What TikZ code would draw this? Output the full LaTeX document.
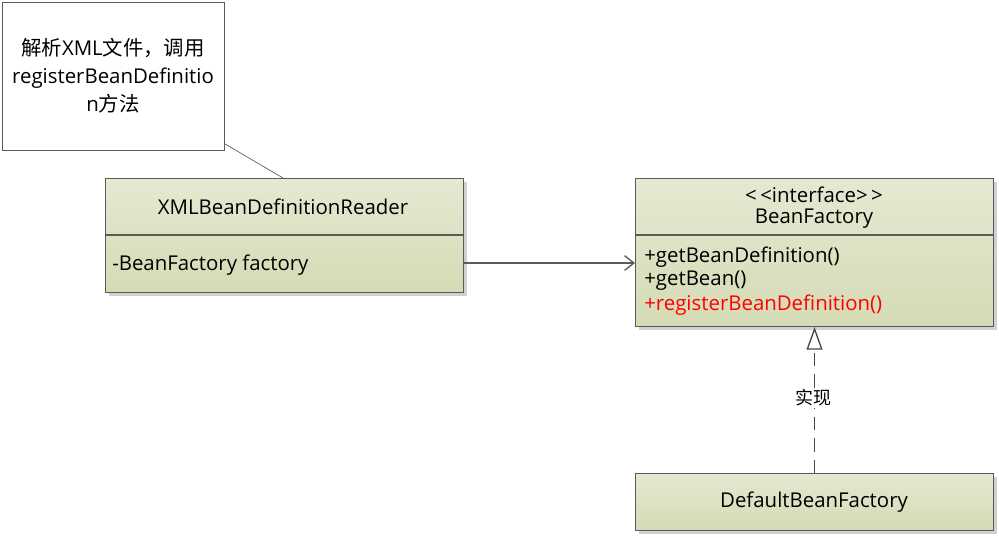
\documentclass[tikz,border=0pt]{standalone}
\usepackage{fontspec}
\setmainfont{Open Sans}
\newfontfamily\cjk{Noto Sans CJK SC}
\usetikzlibrary{arrows.meta,shadows}
\definecolor{boxtop}{RGB}{228,233,210}
\definecolor{boxbot}{RGB}{212,219,180}
\definecolor{edge}{RGB}{90,90,90}
\tikzset{
  cls/.style={draw=edge, line width=0.8pt, top color=boxtop, bottom color=boxbot,
    drop shadow={shadow xshift=2.5pt, shadow yshift=-2.5pt, fill=black!30, opacity=0.6}},
  txt/.style={inner sep=0pt, font=\fontsize{15.3}{17}\selectfont},
}
\begin{document}
\begin{tikzpicture}[x=0.75pt,y=-0.75pt]
\useasboundingbox (0,0) rectangle (999,537);
\fill[white] (0,0) rectangle (999,537);
% note
\node[draw=edge, line width=0.6pt, fill=white, minimum width=222*0.75pt, minimum height=148*0.75pt, inner sep=0pt, anchor=north west] (note) at (2,2) {};
\node[inner sep=0pt, align=center, font=\fontsize{15.3}{21}\selectfont] (notetxt) at (113,76) {{\cjk 解析}XML{\cjk 文件，调用}\\registerBeanDefinitio\\n{\cjk 方法}};
% XMLBeanDefinitionReader
\node[cls, minimum width=358*0.75pt, minimum height=114*0.75pt, inner sep=0pt, anchor=north west] (reader) at (105,178) {};
\draw[edge, line width=0.8pt] (105,235) -- (463,235);
\node[txt] (readername) at (283,207) {XMLBeanDefinitionReader};
\node[txt, anchor=west] (readerattr) at (112,265) {-BeanFactory factory};
% BeanFactory
\node[cls, minimum width=358*0.75pt, minimum height=148*0.75pt, inner sep=0pt, anchor=north west] (bf) at (635,178) {};
\draw[edge, line width=0.8pt] (635,235) -- (993,235);
\node[txt] (stereo) at (814,195) {<\,<interface>\,>};
\node[txt] (bfname) at (814,219) {BeanFactory};
\node[txt, anchor=west] (m1) at (644,257) {+getBeanDefinition()};
\node[txt, anchor=west] (m2) at (644,281) {+getBean()};
\node[txt, anchor=west, text=red] (m3) at (644,305) {+registerBeanDefinition()};
% DefaultBeanFactory
\node[cls, minimum width=358*0.75pt, minimum height=57*0.75pt, inner sep=0pt, anchor=north west] (dbf) at (635,473) {};
\node[txt] (dbfname) at (814,502) {DefaultBeanFactory};
% connectors
\draw[edge, line width=0.5pt] (note.south east) ++(0,-7) coordinate (nc) -- (reader.north -| 283,0);
\draw[edge, line width=1pt, -{Straight Barb[length=7pt,width=11pt,line width=1pt]}] (reader.east |- 0,263) -- (bf.west |- 0,263);
\draw[edge!80!black, line width=1.2pt, dash pattern=on 10pt off 6pt, -{Triangle[open,length=17pt,width=12pt,line width=1pt,fill=white]}] (dbf.north) -- (bf.south -| dbf.north);
\node[fill=white, inner sep=1pt, font=\cjk\fontsize{13.5}{15}\selectfont] (lbl) at (813,398) {实现};
\end{tikzpicture}
\end{document}
